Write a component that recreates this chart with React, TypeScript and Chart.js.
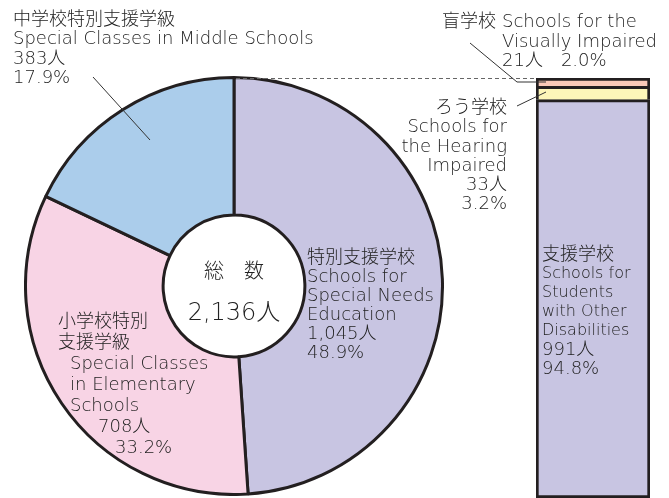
import React, { useEffect, useRef } from "react";
import { Chart, registerables } from "chart.js";
Chart.register(...registerables);

const pieLabels = ["特別支援学校", "小学校特別支援学級", "中学校特別支援学級"];
const pieValues = [1045, 708, 383];
const pieColors = ["#c8c5e2", "#f8d4e5", "#abcdeb"];

const barLabels = ["支援学校", "ろう学校", "盲学校"];
const barValues = [991, 33, 21];
const barColors = ["#c8c5e2", "#fdf6b9", "#fac9b8"];

const FONT = "'DejaVu Sans', 'Noto Sans CJK JP', sans-serif";
const TEXT = "#222";
const EDGE = "#231f20";

function T({ x, y, lines, align = "left", size = 18, lh = 19, right }: any) {
  const style: any = {
    position: "absolute",
    top: y,
    fontFamily: FONT,
    fontSize: size,
    lineHeight: lh + "px",
    color: TEXT,
    whiteSpace: "pre",
    textAlign: align,
    fontWeight: 300,
  };
  if (right !== undefined) style.right = 669 - right;
  else style.left = x;
  return (
    <div style={style}>
      {lines.map((l: any, i: number) =>
        typeof l === "string" ? <div key={i}>{l}</div> : <div key={i} style={l.style}>{l.t}</div>
      )}
    </div>
  );
}

export default function App() {
  const pieRef = useRef<HTMLCanvasElement>(null);
  const barRef = useRef<HTMLCanvasElement>(null);

  useEffect(() => {
    const pie = new Chart(pieRef.current!, {
      type: "doughnut",
      data: {
        labels: pieLabels,
        datasets: [
          {
            data: pieValues,
            backgroundColor: pieColors,
            borderColor: EDGE,
            borderWidth: 3,
          },
        ],
      },
      options: {
        responsive: false,
        animation: false,
        devicePixelRatio: 1,
        cutout: "34%",
        layout: { padding: 0 },
        plugins: { legend: { display: false }, tooltip: { enabled: false } },
      },
    });
    const sides = { top: 3, left: 3, right: 3, bottom: 0 };
    const bar = new Chart(barRef.current!, {
      type: "bar",
      data: {
        labels: [""],
        datasets: barValues.map((v, i) => ({
          label: barLabels[i],
          data: [v],
          backgroundColor: barColors[i],
          borderColor: EDGE,
          borderWidth: i === 0 ? { top: 3, left: 3, right: 3, bottom: 3 } : sides,
          borderSkipped: false,
          barPercentage: 1,
          categoryPercentage: 1,
        })),
      },
      options: {
        responsive: false,
        animation: false,
        devicePixelRatio: 1,
        layout: { padding: 0 },
        scales: {
          x: { stacked: true, display: false },
          y: { stacked: true, display: false, min: 0, max: barValues.reduce((a, b) => a + b, 0) },
        },
        plugins: { legend: { display: false }, tooltip: { enabled: false } },
      },
    });
    return () => {
      pie.destroy();
      bar.destroy();
    };
  }, []);

  const small = { fontSize: 16 };

  return (
    <div style={{ position: "fixed", left: 0, top: 0, width: 669, height: 498, background: "#fff", overflow: "hidden" }}>
      <canvas ref={pieRef} width={420} height={420} style={{ position: "absolute", left: 24, top: 76 }} />
      <canvas ref={barRef} width={114} height={420} style={{ position: "absolute", left: 536, top: 78 }} />
      <svg width={669} height={498} style={{ position: "absolute", left: 0, top: 0 }}>
        <line x1={236} y1={78.5} x2={537} y2={78.5} stroke="#666" strokeWidth={1} strokeDasharray="4,3" />
        <line x1={93} y1={77} x2={150} y2={140} stroke="#333" strokeWidth={1} />
        <polyline points="470,43 517,82 546,82" fill="none" stroke="#333" strokeWidth={1} />
        <line x1={517} y1={106} x2={546} y2={92} stroke="#333" strokeWidth={1} />
      </svg>
      <T x={13} y={9} lh={19.3} lines={["中学校特別支援学級", "Special Classes in Middle Schools", "383人", "17.9%"]} />
      <T x={442} y={11} lh={19.5} lines={["盲学校"]} />
      <T x={502} y={11} lh={19.5} lines={["Schools for the", "Visually Impaired", "21人　2.0%"]} />
      <T right={507} y={97} align="right" lh={19.3} lines={["ろう学校", "Schools for", "the Hearing", "Impaired", "33人", "3.2%"]} />
      <T x={307} y={247} lh={19} lines={["特別支援学校", "Schools for", "Special Needs", "Education", "1,045人", "48.9%"]} />
      <T
        x={58}
        y={310}
        lh={21}
        lines={[
          "小学校特別",
          "支援学級",
          { t: "Special Classes", style: { paddingLeft: 12 } },
          { t: "in Elementary", style: { paddingLeft: 12 } },
          { t: "Schools", style: { paddingLeft: 12 } },
          { t: "708人", style: { paddingLeft: 40 } },
          { t: "33.2%", style: { paddingLeft: 57 } },
        ]}
      />
      <T
        x={542}
        y={244}
        lh={19}
        lines={[
          "支援学校",
          { t: "Schools for", style: small },
          { t: "Students", style: small },
          { t: "with Other", style: small },
          { t: "Disabilities", style: small },
          "991人",
          "94.8%",
        ]}
      />
      <div style={{ position: "absolute", left: 164, top: 255, width: 140, textAlign: "center", fontFamily: FONT, fontSize: 20, color: TEXT, fontWeight: 300, whiteSpace: "pre" }}>
        総　数
      </div>
      <div style={{ position: "absolute", left: 164, top: 292, width: 140, textAlign: "center", fontFamily: FONT, fontSize: 24, color: TEXT, fontWeight: 300, whiteSpace: "pre" }}>
        2,136人
      </div>
    </div>
  );
}
